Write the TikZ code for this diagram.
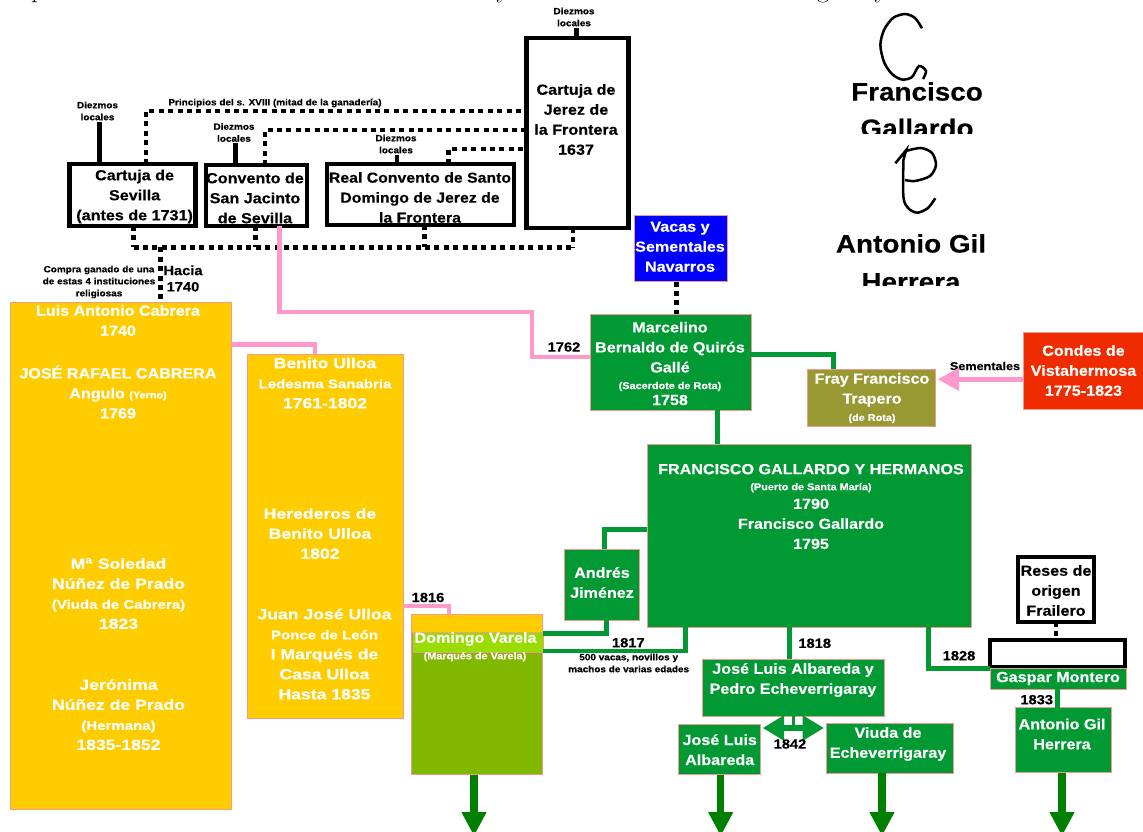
\documentclass[tikz,border=0pt]{standalone}
\usepackage{fontspec}
\usepackage{tikz}
\usetikzlibrary{calc}
\usetikzlibrary{arrows.meta}

\newfontfamily\labfont{Liberation Sans}[FakeStretch=1.1, BoldFeatures={FakeBold=.35}]
\newfontfamily\widefont{Liberation Sans}[FakeStretch=1.2, BoldFeatures={FakeBold=.35}]
\newcommand{\subt}[1]{{\fontsize{7.4}{15}\selectfont #1}}
\newcommand{\subb}[1]{{\fontsize{9.4}{15}\selectfont #1}}

\definecolor{ganaderia}{HTML}{009933}
\definecolor{ocre}{HTML}{FFCC00}
\definecolor{oliva}{HTML}{80B800}
\definecolor{lima}{HTML}{99DD00}
\definecolor{trapero}{HTML}{999933}
\definecolor{vista}{HTML}{EE2C00}
\definecolor{rosa}{HTML}{FF99CC}
\definecolor{borde}{HTML}{F09A90}
\definecolor{flecha}{HTML}{008000}

\tikzset{
  dims/.style 2 args={minimum width=#1*.75pt, minimum height=#2*.75pt},
  lab/.style={inner sep=0pt, outer sep=0pt, align=center, font=\labfont\bfseries\fontsize{11}{15}\selectfont},
  lablarge/.style={lab, text=white, font=\widefont\bfseries\fontsize{11}{15}\selectfont},
  labwhite/.style={lab, text=white},
  tiny/.style={lab, font=\labfont\bfseries\fontsize{6.8}{9}\selectfont},
  year/.style={lab, font=\labfont\bfseries\fontsize{10}{15}\selectfont},
  firma/.style={lab, font=\labfont\bfseries\fontsize{19}{29}\selectfont},
  blackbox/.style={lab, draw=black, line width=3.4pt, fill=white},
  ramabox/.style={lab, text=white, draw=borde, line width=.7pt},
  greenbox/.style={ramabox, fill=ganaderia},
  ocrebox/.style={ramabox, fill=ocre},
  dotline/.style={line width=3.6pt, dash pattern=on 3.8pt off 3.25pt},
  solidline/.style={line width=3.6pt},
  greenline/.style={color=ganaderia, line width=3.6pt},
  pinkline/.style={color=rosa, line width=3.6pt},
  downline/.style={color=flecha, line width=5.6pt, -{Triangle[width=17.6pt,length=18pt]}},
  pen/.style={line width=1.9pt}
}

\begin{document}
\begin{tikzpicture}[x=.75pt, y=-.75pt]
  \useasboundingbox (0,0) rectangle (1143,832);

  % restos de la linea de texto cortada
  \begin{scope}
    \clip (0,0) rectangle (1143,5);
    \foreach \letra/\letx/\name in {p/38/ra, y/503/rb, g/823/rc, y/881/rd}{
      \node[inner sep=0pt, anchor=base, font=\fontsize{20}{24}\selectfont] (\name) at (\letx,-3) {\letra};
    }
  \end{scope}

  % conventos
  \node[blackbox, dims={126}{62}] (sevilla) at (132.5,195) {};
  \node[lab] (sevillatext) at (134.6,196.5) {Cartuja de\\Sevilla\\(antes de 1731)};
  \node[blackbox, dims={101}{61}] (jacinto) at (256.5,195.5) {};
  \node[lab] (jacintotext) at (255,198) {Convento de\\San Jacinto\\de Sevilla};
  \node[blackbox, dims={187}{61}] (domingo) at (420.5,194.5) {};
  \node[lab, font=\labfont\bfseries\fontsize{10.8}{15}\selectfont] (domingotext) at (420,197.5) {Real Convento de Santo\\Domingo de Jerez de\\la Frontera};
  \node[blackbox, dims={102}{190}] (jerez) at (577.5,133) {};
  \node[lab] (jereztext) at (576,119.5) {Cartuja de\\Jerez de\\la Frontera\\1637};

  \node[tiny] (dzjerez) at (574,17) {Diezmos\\locales};
  \node[tiny] (dzsevilla) at (97.5,111) {Diezmos\\locales};
  \node[tiny] (dzjacinto) at (234,132.5) {Diezmos\\locales};
  \node[tiny] (dzdomingo) at (396,144) {Diezmos\\locales};
  \node[tiny] (principios) at (275,103) {Principios del s. XVIII (mitad de la ganader\'ia)};
  \node[tiny] (compra) at (99,282) {Compra ganado de una\\de estas 4 instituciones\\religiosas};
  \node[year] (hacia) at (183,278.5) {Hacia\\[-2.8pt]1740};

  \coordinate (dzline1) at (99.5,122);
  \coordinate (dzline2) at (235.5,143);
  \coordinate (dzline3) at (397,155);
  \coordinate (dzline4) at (576.5,28);
  \foreach \dz/\caja in {dzline1/sevilla, dzline2/jacinto, dzline3/domingo, dzline4/jerez}{
    \draw[solidline] (\dz) -- (\dz |- \caja.north);
  }

  \coordinate (topA) at (146,111);
  \coordinate (topB) at (265,130);
  \coordinate (topC) at (448.5,149);
  \foreach \arriba/\caja in {topA/sevilla, topB/jacinto, topC/domingo}{
    \draw[dotline] (\caja.north -| \arriba) -- (\arriba) -- (\arriba -| jerez.west);
  }

  \coordinate (bus) at (133.5,247.3);
  \foreach \busx/\caja in {133.5/sevilla, 255.5/jacinto, 424.5/domingo, 573/jerez}{
    \draw[dotline] (\busx,0 |- \caja.south) -- (\busx,247.3);
  }
  \draw[dotline] (bus) -- (573,247.3);

  % ramas de la izquierda
  \node[ocrebox, dims={221}{507}] (cabrera) at (120.5,556) {};
  \node[ocrebox, dims={156}{364}] (ulloa) at (325,536) {};
  \draw[dotline] (160.4,247.3) -- (160.4,0 |- cabrera.north);

  \node[lab, text=white] (luis) at (118,320.5) {Luis Antonio Cabrera\\1740};
  \node[lab, text=white] (jose) at (118,392) {JOS\'E RAFAEL CABRERA\\Angulo \subt{(Yerno)}\\1769};
  \node[lablarge] (soledad) at (118.5,593.5) {M\textsuperscript{a} Soledad\\N\'u\~nez de Prado\\\subb{(Viuda de Cabrera)}\\1823};
  \node[lablarge] (jeronima) at (118.5,714.5) {Jer\'onima\\N\'u\~nez de Prado\\\subb{(Hermana)}\\1835-1852};
  \node[lablarge] (benito) at (325,383) {Benito Ulloa\\\subb{Ledesma Sanabria}\\1761-1802};
  \node[lablarge] (herederos) at (320,533.5) {Herederos de\\Benito Ulloa\\1802};
  \node[lablarge] (juan) at (324.5,654) {Juan Jos\'e Ulloa\\\subb{Ponce de Le\'on}\\I Marqu\'es de\\Casa Ulloa\\Hasta 1835};

  \draw[pinkline] (cabrera.east |- 0,344.6) -- (315,344.6) -- (315,0 |- ulloa.north);

  % Varela
  \node[ramabox, fill=oliva, dims={131}{160}] (varela) at (477.2,694.7) {};
  \node[ramabox, fill=ocre, dims={131}{18}] (varelatop) at (477.2,623.7) {};
  \node[ramabox, fill=lima, dims={130}{20}] (varelaband) at (478,642.7) {};
  \node[labwhite] (varelatext) at (475.5,639) {Domingo Varela};
  \node[labwhite] (varelasub) at (475,656.7) {\subt{(Marqu\'es de Varela)}};
  \node[year] (y1816) at (428,597.5) {1816};
  \draw[pinkline] (ulloa.east |- 0,606) -- (449,606) -- (449,0 |- varelatop.north);

  % Gallardo y Quiros
  \node[ramabox, fill=blue, dims={93}{66}] (vacas) at (681,248.5) {};
  \node[labwhite] (vacastext) at (680,246.7) {Vacas y\\Sementales\\Navarros};
  \node[greenbox, dims={161}{96}] (marcelino) at (670.5,362) {};
  \node[labwhite] (marcelinotext) at (670,363.5) {Marcelino\\Bernaldo de Quir\'os\\Gall\'e\\[-2.5pt]\subt{(Sacerdote de Rota)}\\[-3pt]1758};
  \draw[dotline] (vacas.south -| 676.5,0) -- (marcelino.north -| 676.5,0);
  \node[year] (y1762) at (564,347) {1762};
  \draw[pinkline] (279.4,0 |- jacinto.south) -- (279.4,312) -- (532,312) -- (532,357) -- (marcelino.west |- 0,357);

  \node[ramabox, fill=trapero, dims={128}{57}] (fray) at (871,397.5) {};
  \node[labwhite] (fraytext) at (872,398) {Fray Francisco\\Trapero\\[-2pt]\subt{(de Rota)}};
  \node[ramabox, fill=vista, dims={120}{77}] (condes) at (1083.5,370.5) {Condes de\\Vistahermosa\\1775-1823};
  \draw[greenline] (marcelino.east |- 0,354.3) -- (833.5,354.3) -- (833.5,0 |- fray.north);
  \node[lab, font=\labfont\bfseries\fontsize{8.6}{10}\selectfont] (sementales) at (985,366) {Sementales};
  \coordinate (semen) at (1000,379.3);
  \draw[pinkline, -{Triangle[width=16.5pt,length=16pt]}, shorten >=2pt] (semen -| condes.west) -- (semen -| fray.east);

  % Francisco Gallardo y hermanos
  \node[greenbox, dims={324}{183}] (gallardo) at (809,535.5) {};
  \node[labwhite] (gallardotext) at (811,506.5) {FRANCISCO GALLARDO Y HERMANOS\\[-3pt]\subt{(Puerto de Santa Mar\'ia)}\\[-1pt]1790\\Francisco Gallardo\\1795};
  \draw[greenline] (717.5,0 |- marcelino.south) -- (717.5,0 |- gallardo.north);

  \node[greenbox, dims={75}{71}] (andres) at (602,584.5) {};
  \node[labwhite] (andrestext) at (602,582.5) {Andr\'es\\Jim\'enez};
  \draw[greenline] (andres.north -| 604.3,0) -- (604.3,529.3) -- (gallardo.west |- 0,529.3);
  \draw[greenline] (andres.south -| 606.7,0) -- (606.7,633.3) -- (varelaband.east |- 0,633.3);
  \draw[greenline] (gallardo.south -| 685.3,0) -- (685.3,651) -- (varelaband.east |- 0,651);
  \node[year] (y1817) at (628.3,642.7) {1817};
  \node[tiny] (vacasmachos) at (628.7,663) {500 vacas, novillos y\\machos de varias edades};

  % herederos
  \node[greenbox, dims={182}{57}] (albareda) at (793.7,687.5) {};
  \node[labwhite] (albaredatext) at (793,680) {Jos\'e Luis Albareda y\\Pedro Echeverrigaray};
  \node[greenbox, dims={82}{50}] (joseluis) at (719.7,749.7) {Jos\'e Luis\\Albareda};
  \node[greenbox, dims={127}{50}] (viuda) at (889.5,748.3) {};
  \node[labwhite] (viudatext) at (888,744) {Viuda de\\Echeverrigaray};
  \draw[greenline] (789.3,0 |- gallardo.south) -- (789.3,0 |- albareda.north);
  \node[year] (y1818) at (814.7,643.3) {1818};
  \coordinate (split) at (793.5,728);
  \draw[greenline, line width=2.4pt] (albareda.south -| split) -- (split);
  \draw[greenline, line width=4.5pt, {Triangle[width=18pt,length=16pt]}-{Triangle[width=18pt,length=16pt]}, shorten <=1.5pt, shorten >=1.5pt] (split -| joseluis.east) -- (split -| viuda.west);
  \node[year] (y1842) at (790,744) {1842};

  % Gaspar Montero
  \node[blackbox, dims={76}{65}, line width=3pt] (reses) at (1056,589.5) {};
  \node[lab] (resestext) at (1056,590.5) {Reses de\\origen\\Frailero};
  \node[blackbox, dims={135}{27}, line width=3pt] (gasparbar) at (1057.5,653.5) {};
  \node[greenbox, dims={136}{21}] (gaspar) at (1058,678.5) {Gaspar Montero};
  \node[greenbox, dims={96}{65}] (antonio) at (1063.5,740) {};
  \node[labwhite] (antoniotext) at (1062,734) {Antonio Gil\\Herrera};
  \draw[dotline] (reses.south -| 1056,0) -- (gasparbar.north -| 1056,0);
  \draw[greenline] (928.7,0 |- gallardo.south) -- (928.7,668.3) -- (gasparbar.west |- 0,668.3);
  \draw[greenline] (1057.7,0 |- gaspar.south) -- (1057.7,0 |- antonio.north);
  \node[year] (y1828) at (959,655.7) {1828};
  \node[year] (y1833) at (1036.7,699.7) {1833};

  \foreach \tipx/\caja in {474/varela, 720.7/joseluis, 882/viuda, 1062/antonio}{
    \draw[downline] (\tipx,0 |- \caja.south) -- (\tipx,836);
  }

  % firmas
  \draw[pen] plot[smooth] coordinates {(922,28.3) (915,18) (905,14) (893,18) (884,30) (880.4,45) (884,62) (892,74) (902,79.5) (912,77) (919,66) (926,71) (923,79)};
  \draw[pen] (895.4,163.3) -- (906.2,150) -- (903.4,160);
  \draw[pen] plot[smooth] coordinates {(903.4,160) (903.4,196.7) (908,208) (917.3,212.7) (928,208) (935.2,198.3)};
  \draw[pen] plot[smooth] coordinates {(907,150.7) (921,148) (932,153) (936,165) (930,176) (915,181) (905,180)};

  \node[firma] (francisco) at (917,91.5) {Francisco};
  \begin{scope}
    \clip (800,110) rectangle (1040,133.5);
    \node[firma] (gallardoname) at (917,128) {Gallardo};
  \end{scope}
  \node[firma] (antoniogil) at (911,243.5) {Antonio Gil};
  \begin{scope}
    \clip (800,265) rectangle (1040,285.5);
    \node[firma] (herrera) at (911,282) {Herrera};
  \end{scope}
\end{tikzpicture}
\end{document}
